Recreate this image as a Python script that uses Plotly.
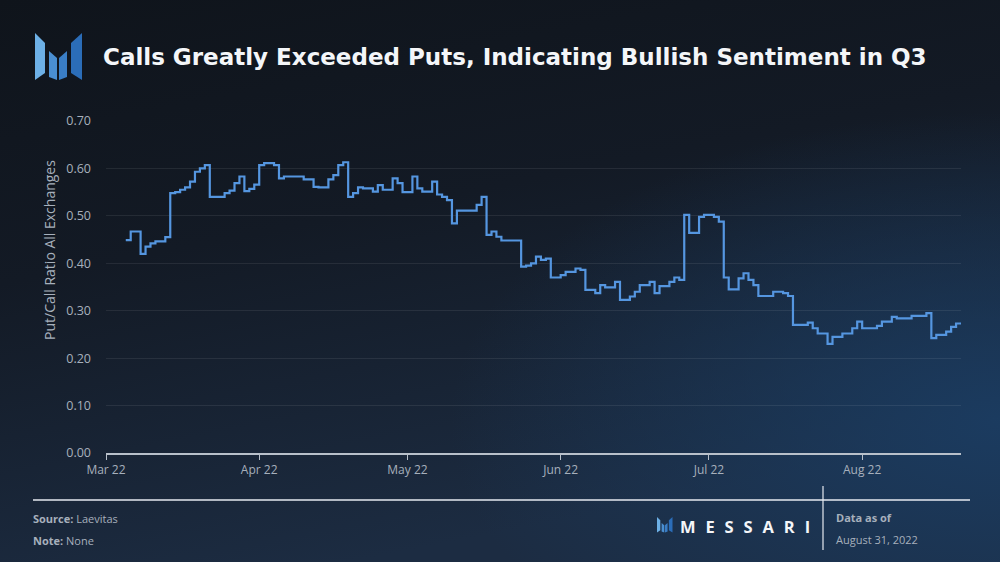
import base64
import pandas as pd
import plotly.graph_objects as go

# Daily put/call ratio, starting 2022-03-05
start_date = "2022-03-05"
put_call_ratio = [
    0.449, 0.467, 0.467, 0.420, 0.435, 0.442, 0.446, 0.446, 0.455, 0.548,
    0.550, 0.555, 0.560, 0.572, 0.593, 0.600, 0.607, 0.540, 0.540, 0.540,
    0.548, 0.553, 0.569, 0.583, 0.552, 0.557, 0.566, 0.607, 0.611, 0.611,
    0.607, 0.579, 0.583, 0.583, 0.583, 0.583, 0.577, 0.577, 0.561, 0.560,
    0.560, 0.577, 0.586, 0.607, 0.613, 0.540, 0.548, 0.560, 0.558, 0.558,
    0.551, 0.565, 0.555, 0.555, 0.579, 0.569, 0.550, 0.550, 0.583, 0.558,
    0.551, 0.551, 0.572, 0.545, 0.540, 0.533, 0.484, 0.511, 0.511, 0.511,
    0.511, 0.523, 0.540, 0.460, 0.467, 0.456, 0.448, 0.448, 0.448, 0.448,
    0.393, 0.395, 0.400, 0.414, 0.407, 0.410, 0.370, 0.370, 0.375, 0.382,
    0.382, 0.389, 0.386, 0.344, 0.344, 0.337, 0.354, 0.349, 0.349, 0.361,
    0.323, 0.323, 0.330, 0.340, 0.354, 0.354, 0.361, 0.337, 0.352, 0.352,
    0.361, 0.370, 0.365, 0.502, 0.464, 0.464, 0.498, 0.502, 0.502, 0.498,
    0.488, 0.370, 0.345, 0.345, 0.368, 0.379, 0.365, 0.354, 0.331, 0.331,
    0.331, 0.340, 0.340, 0.337, 0.331, 0.270, 0.270, 0.270, 0.275, 0.263,
    0.252, 0.252, 0.230, 0.245, 0.245, 0.252, 0.252, 0.263, 0.277, 0.263,
    0.263, 0.263, 0.268, 0.277, 0.277, 0.287, 0.284, 0.284, 0.284, 0.289,
    0.289, 0.289, 0.295, 0.242, 0.249, 0.249, 0.256, 0.266, 0.273, 0.273,
]
x_range = ["2022-03-01", "2022-08-21"]
y_ticks = [0.0, 0.1, 0.2, 0.3, 0.4, 0.5, 0.6, 0.7]

TITLE = "Calls Greatly Exceeded Puts, Indicating Bullish Sentiment in Q3"
Y_TITLE = "Put/Call Ratio All Exchanges"

LINE_BLUE = "#5596E0"
TEXT_GREY = "#A7B0BC"

# canvas + plot-area geometry (pixels)
W, H = 1000, 562
L, R, T, B = 106, 39, 121, 109
PW, PH = W - L - R, H - T - B


def px(x, y):
    """pixel position -> paper coords"""
    return (x - L) / PW, (H - B - y) / PH


def logo_shapes(x0, y0, s):
    """Messari mark as blue slabs, (x0, y0) top-left, s = scale"""
    pieces = [
        ([(0, 0), (10, 10), (10, 40), (0, 47)], "#6DB0E6"),
        ([(14, 18), (22, 25), (22, 47), (14, 44)], "#4A8FD2"),
        ([(24, 25), (32, 18), (32, 44), (24, 47)], "#3A7EC6"),
        ([(36, 10), (47, 0), (47, 47), (36, 40)], "#2B6DB8"),
    ]
    out = []
    for pts, col in pieces:
        path = ""
        for i, (a, b) in enumerate(pts):
            fx, fy = px(x0 + a * s, y0 + b * s)
            path += ("M" if i == 0 else "L") + f"{fx:.5f},{fy:.5f} "
        out.append(dict(type="path", path=path + "Z", xref="paper", yref="paper",
                        fillcolor=col, line=dict(width=0), layer="above"))
    return out


dates = pd.date_range(start_date, periods=len(put_call_ratio), freq="D")

fig = go.Figure()
fig.add_trace(go.Scatter(
    x=dates, y=put_call_ratio, mode="lines",
    line=dict(color=LINE_BLUE, width=2.2, shape="hv"),
    hoverinfo="skip",
))

# background gradient
svg = (
    '<svg xmlns="http://www.w3.org/2000/svg" width="1000" height="562">'
    '<defs>'
    '<linearGradient id="g" x1="0" y1="0" x2="0.35" y2="1">'
    '<stop offset="0" stop-color="#0f141b"/><stop offset="0.45" stop-color="#131a25"/>'
    '<stop offset="1" stop-color="#1c2c42"/></linearGradient>'
    '<radialGradient id="r" cx="1" cy="0.75" r="0.55">'
    '<stop offset="0" stop-color="#1b3d63" stop-opacity="0.9"/>'
    '<stop offset="1" stop-color="#1b3d63" stop-opacity="0"/></radialGradient>'
    '</defs>'
    '<rect width="1000" height="562" fill="url(#g)"/>'
    '<rect width="1000" height="562" fill="url(#r)"/>'
    '</svg>'
)
bg_src = "data:image/svg+xml;base64," + base64.b64encode(svg.encode()).decode()
bx, by = px(0, 0)

shapes = []
# footer rules
x1, y1 = px(33, 500)
x2, _ = px(970, 500)
shapes.append(dict(type="line", xref="paper", yref="paper", x0=x1, x1=x2, y0=y1, y1=y1,
                   line=dict(color="#E6EAF0", width=1.5)))
vx, vy0 = px(823, 486)
_, vy1 = px(823, 550)
shapes.append(dict(type="line", xref="paper", yref="paper", x0=vx, x1=vx, y0=vy0, y1=vy1,
                   line=dict(color="#E6EAF0", width=1.2)))
shapes += logo_shapes(35, 33, 1.0)
shapes += logo_shapes(657, 517, 0.33)


def note(x, y, text, size, color, anchor="left", family="Open Sans", angle=0):
    ax, ay = px(x, y)
    return dict(x=ax, y=ay, xref="paper", yref="paper", text=text, showarrow=False,
                xanchor=anchor, yanchor="middle", textangle=angle,
                font=dict(size=size, color=color, family=family))


sp = "\u2002\u200a"
annotations = [
    note(101, 57, f"<b>{TITLE}</b>", 23, "#F4F6F9", family="DejaVu Sans"),
    note(50, 250, Y_TITLE, 14, TEXT_GREY, anchor="center", angle=-90),
    note(31, 518, "<b>Source:</b> Laevitas", 11, TEXT_GREY),
    note(31, 540, "<b>Note:</b> None", 11, TEXT_GREY),
    note(678, 526, "<b>" + sp.join("MESSARI") + "</b>", 16.5, "#F4F6F9"),
    note(834, 517, "<b>Data as of</b>", 11, TEXT_GREY),
    note(834, 539, "August 31, 2022", 11, TEXT_GREY),
]

fig.update_layout(
    width=W, height=H,
    margin=dict(l=L, r=R, t=T, b=B),
    paper_bgcolor="#141b26",
    plot_bgcolor="rgba(0,0,0,0)",
    showlegend=False,
    font=dict(family="Open Sans", color=TEXT_GREY, size=12),
    images=[dict(source=bg_src, xref="paper", yref="paper", x=bx, y=by,
                 sizex=W / PW, sizey=H / PH, xanchor="left", yanchor="top",
                 sizing="stretch", layer="below")],
    shapes=shapes,
    annotations=annotations,
)
fig.update_xaxes(
    type="date", range=x_range, dtick="M1", tick0="2022-03-01", tickformat="%b %y",
    showgrid=False, showline=True, linecolor="#B8C0CA", linewidth=1.5,
    ticks="outside", ticklen=5, tickcolor="#B8C0CA", tickwidth=1,
    tickfont=dict(size=12, color=TEXT_GREY), zeroline=False,
)
fig.update_yaxes(
    range=[0, 0.7], tickvals=y_ticks, tickformat=".2f",
    showgrid=True, gridcolor="rgba(255,255,255,0.08)", gridwidth=1,
    zeroline=False, showline=False, ticks="", ticklabelstandoff=14,
    tickfont=dict(size=12.5, color=TEXT_GREY),
)

# drop the browser's default body margin so the figure fills the window
fig.write_html("out.html", config={"displayModeBar": False},
               post_script="document.body.style.margin='0';")
